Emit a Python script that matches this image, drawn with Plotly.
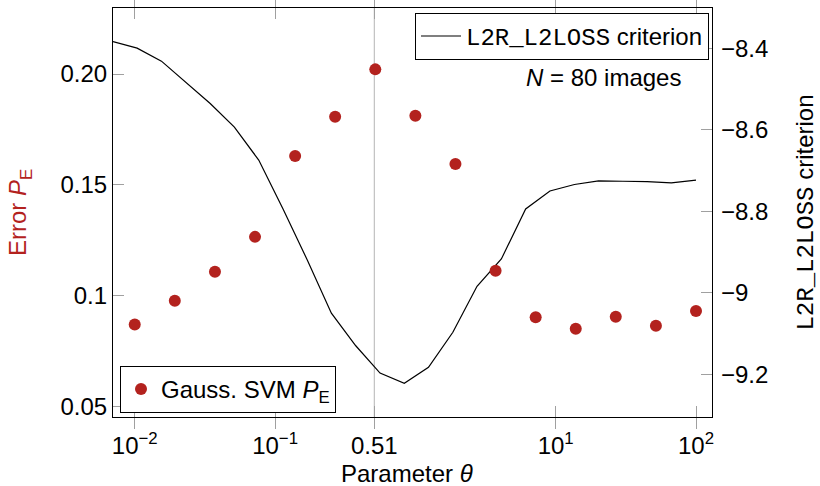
import plotly.graph_objects as go
import math

# ---- data ----
theta_svm = [0.01, 0.0193, 0.0373, 0.0720, 0.139, 0.268, 0.518, 1.0, 1.93, 3.73,
             7.20, 13.9, 26.8, 51.8, 100]
pe_svm = [0.087, 0.0977, 0.1108, 0.1265, 0.163, 0.1807, 0.2021, 0.1812, 0.1594,
          0.1112, 0.0902, 0.085, 0.0904, 0.0864, 0.093]

theta_crit = [0.0070, 0.0104, 0.0155, 0.0231, 0.0345, 0.0513, 0.0765, 0.114, 0.170,
              0.252, 0.376, 0.560, 0.834, 1.24, 1.85, 2.75, 4.10, 6.11, 9.10, 13.6,
              20.2, 30.1, 44.8, 66.7, 100]
crit = [-8.383, -8.399, -8.431, -8.482, -8.535, -8.593, -8.674, -8.794, -8.920,
        -9.050, -9.130, -9.197, -9.222, -9.183, -9.097, -8.984, -8.917, -8.794,
        -8.750, -8.734, -8.725, -8.726, -8.727, -8.730, -8.723]

theta_opt = [0.51]

x_tickvals = [0.01, 0.1, 0.51, 10, 100]
x_ticktext = ["10<sup>−2</sup>", "10<sup>−1</sup>", "0.51", "10<sup>1</sup>", "10<sup>2</sup>"]
pe_tickvals = [0.05, 0.1, 0.15, 0.20]
pe_ticktext = ["0.05", "0.1", "0.15", "0.20"]
crit_tickvals = [-8.4, -8.6, -8.8, -9.0, -9.2]
crit_ticktext = ["−8.4", "−8.6", "−8.8", "−9", "−9.2"]

RED = "#B3221E"
FONT = "Liberation Sans"
MONO = "Liberation Mono"
FS = 24
crit_label = f'<span style="font-family:{MONO}">L2R_L2LOSS</span> criterion'

fig = go.Figure()
fig.add_trace(go.Scatter(
    x=theta_crit, y=crit, mode="lines", yaxis="y",
    line=dict(color="black", width=1.2),
    name=crit_label, legend="legend"))
fig.add_trace(go.Scatter(
    x=theta_svm, y=pe_svm, mode="markers", yaxis="y2",
    marker=dict(color=RED, size=12),
    name="Gauss. SVM <i>P</i><sub>E</sub>", legend="legend2"))

fig.add_shape(type="line", xref="x", yref="paper", x0=theta_opt[0], x1=theta_opt[0],
              y0=0, y1=1, line=dict(color="#c0c0c0", width=1.2), layer="below")

fig.add_annotation(xref="paper", yref="paper", x=0.952, y=0.829, xanchor="right",
                   yanchor="middle", showarrow=False,
                   text="<i>N</i> = 80 images", font=dict(size=FS, color="black", family=FONT))

# x-axis title placed as an annotation below the tick labels
fig.add_annotation(xref="paper", yref="paper", x=0.49, y=-0.137, xanchor="center",
                   yanchor="middle", showarrow=False,
                   text="Parameter <i>θ</i>", font=dict(size=FS, color="black", family=FONT))

common_tick = dict(ticks="inside", ticklen=11, tickcolor="#a0a0a0", tickwidth=1,
                   showgrid=False, zeroline=False, showline=True, linecolor="black",
                   linewidth=1.2, automargin=False,
                   tickfont=dict(size=FS, color="black", family=FONT))

fig.update_layout(
    width=820, height=486, autosize=False,
    margin=dict(l=113, r=108, t=8, b=69),
    plot_bgcolor="white", paper_bgcolor="white",
    font=dict(family=FONT, size=FS, color="black"),
    xaxis=dict(type="log", range=[math.log10(0.007), 2.114],
               tickvals=x_tickvals, ticktext=x_ticktext, mirror="allticks",
               ticklabelstandoff=7,
               **common_tick),
    yaxis=dict(side="right", range=[-9.305, -8.3005],
               tickvals=crit_tickvals, ticktext=crit_ticktext,
               ticklabelstandoff=3,
               title=dict(text=crit_label, font=dict(size=FS, color="black"), standoff=30),
               **common_tick),
    yaxis2=dict(side="left", overlaying="y", range=[0.0452, 0.2298],
                tickvals=pe_tickvals, ticktext=pe_ticktext,
                ticklabelstandoff=0,
                title=dict(text="Error <i>P</i><sub>E</sub>", font=dict(size=FS, color=RED), standoff=26),
                **common_tick),
    legend=dict(x=0.995, y=0.988, xanchor="right", yanchor="top",
                bordercolor="black", borderwidth=1, bgcolor="white",
                font=dict(size=FS, family=FONT), tracegroupgap=0, itemwidth=40),
    legend2=dict(x=0.0117, y=0.0098, xanchor="left", yanchor="bottom",
                 bordercolor="black", borderwidth=1, bgcolor="white",
                 font=dict(size=FS, family=FONT), itemwidth=30),
    showlegend=True,
)

fig.write_html("out.html", config={"displayModeBar": False},
               post_script="document.body.style.margin='0px';")
